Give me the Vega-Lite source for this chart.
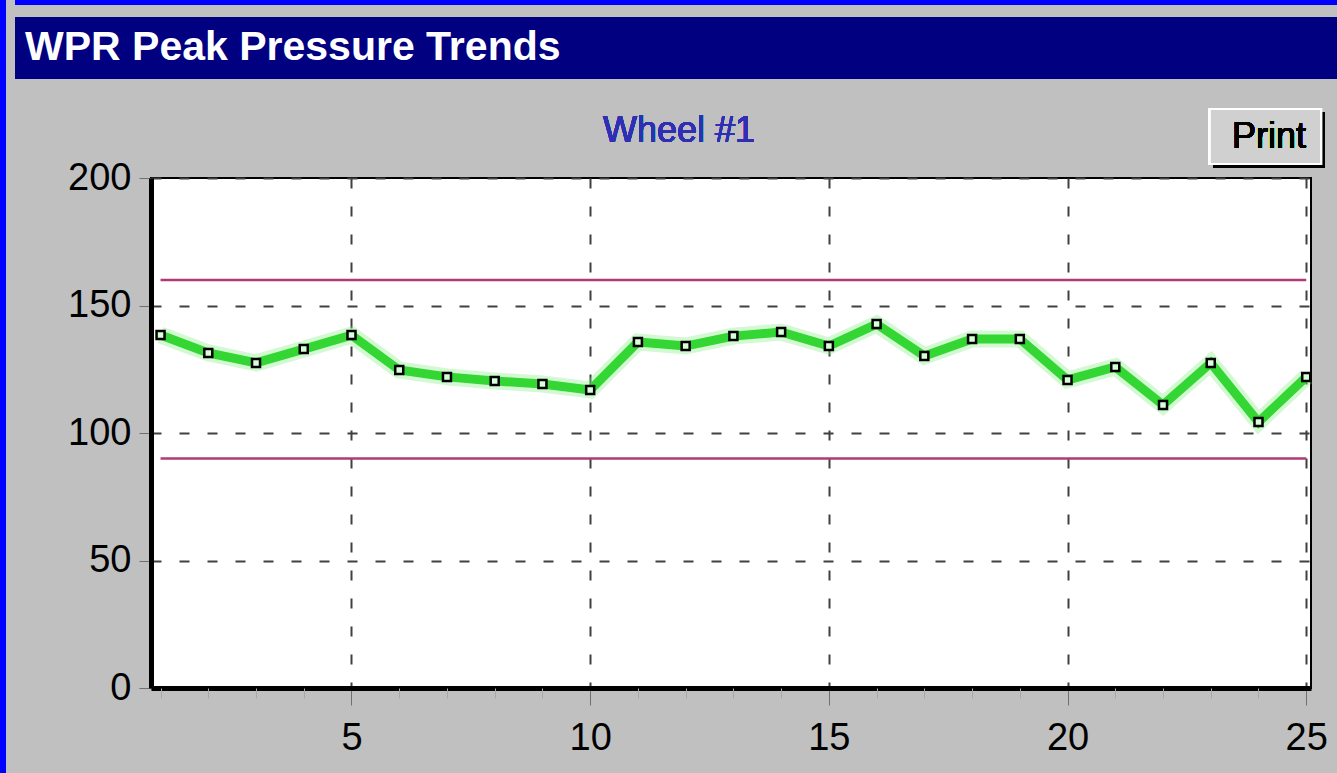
{
  "$schema": "https://vega.github.io/schema/vega-lite/v6.json",
  "background": "#C0C0C0",
  "padding": 0,
  "spacing": 9,
  "config": {"view": {"stroke": null}, "font": "Liberation Sans"},
  "hconcat": [
    {
      "width": 6, "height": 773,
      "view": {"fill": "#0000FF"},
      "data": {"values": [{}]},
      "mark": {"type": "point", "size": 0, "opacity": 0},
      "encoding": {}
    },
    {
      "columns": 1,
      "align": "none",
      "spacing": 27,
      "concat": [
        {
          "columns": 1,
          "align": "none",
          "spacing": 12,
          "concat": [
            {
              "width": 1322, "height": 5,
              "view": {"fill": "#0000FF"},
              "data": {"values": [{}]},
              "mark": {"type": "point", "size": 0, "opacity": 0},
              "encoding": {}
            },
            {
              "width": 1322, "height": 62,
              "view": {"fill": "#000080"},
              "data": {"values": [{"label": "WPR Peak Pressure Trends"}]},
              "mark": {"type": "text", "align": "left", "baseline": "middle", "dx": 10, "fontSize": 41, "fontWeight": "bold", "color": "white", "font": "Liberation Sans"},
              "encoding": {
                "x": {"datum": 0, "type": "quantitative", "scale": {"domain": [0, 1]}, "axis": null},
                "text": {"field": "label"}
              }
            }
          ]
        },
        {
          "spacing": 0,
          "hconcat": [
            {
              "width": 1, "height": 1,
              "data": {"values": [{}]},
              "mark": {"type": "point", "size": 0, "opacity": 0},
              "encoding": {}
            },
            {
              "width": 1160, "height": 510,
              "view": {"fill": "white", "stroke": "black", "strokeWidth": 2},
              "data": {"values": [
                {"run": 1, "psi": 138.4}, {"run": 2, "psi": 131.4}, {"run": 3, "psi": 127.5}, {"run": 4, "psi": 132.9}, {"run": 5, "psi": 138.4},
                {"run": 6, "psi": 124.7}, {"run": 7, "psi": 122.0}, {"run": 8, "psi": 120.4}, {"run": 9, "psi": 119.2}, {"run": 10, "psi": 116.9},
                {"run": 11, "psi": 135.7}, {"run": 12, "psi": 134.1}, {"run": 13, "psi": 138.0}, {"run": 14, "psi": 139.6}, {"run": 15, "psi": 134.1},
                {"run": 16, "psi": 142.7}, {"run": 17, "psi": 130.2}, {"run": 18, "psi": 136.9}, {"run": 19, "psi": 136.9}, {"run": 20, "psi": 120.8},
                {"run": 21, "psi": 125.9}, {"run": 22, "psi": 111.0}, {"run": 23, "psi": 127.5}, {"run": 24, "psi": 104.3}, {"run": 25, "psi": 122.0}
              ]},
              "resolve": {"axis": {"x": "independent"}},
              "layer": [
                {
                  "data": {"values": [{"limit": 160}, {"limit": 90}]},
                  "mark": {"type": "rule", "color": "#b03a78", "strokeWidth": 2.5},
                  "encoding": {
                    "y": {"field": "limit", "type": "quantitative", "scale": {"domain": [0, 200], "nice": false},
                      "axis": {"values": [0, 50, 100, 150, 200], "grid": true, "gridDash": [10, 18], "gridColor": "#404040", "gridWidth": 2,
                        "tickColor": "#707070", "tickSize": 12, "labelPadding": 8, "labelFontSize": 38, "labelColor": "black", "labelFont": "Liberation Sans",
                        "domainColor": "black", "domainWidth": 5, "title": null, "minExtent": 134}},
                    "x": {"datum": 1, "type": "quantitative", "scale": {"domain": [0.8, 25.1], "nice": false, "zero": false}, "axis": null},
                    "x2": {"datum": 25}
                  }
                },
                {
                  "mark": {"type": "line", "color": "#7dee7d", "strokeWidth": 17, "opacity": 0.35},
                  "encoding": {
                    "x": {"field": "run", "type": "quantitative", "axis": null},
                    "y": {"field": "psi", "type": "quantitative"}
                  }
                },
                {
                  "mark": {"type": "line", "color": "#33d633", "strokeWidth": 9},
                  "encoding": {
                    "x": {"field": "run", "type": "quantitative", "scale": {"domain": [0.8, 25.1], "nice": false, "zero": false},
                      "axis": {"orient": "bottom", "values": [5, 10, 15, 20, 25], "grid": true, "gridDash": [10, 18], "gridColor": "#404040", "gridWidth": 2,
                        "tickColor": "#707070", "tickSize": 17, "labelPadding": 14, "labelFontSize": 38, "labelColor": "black", "labelFont": "Liberation Sans",
                        "labelFlush": false, "domainColor": "black", "domainWidth": 5, "title": null}},
                    "y": {"field": "psi", "type": "quantitative"}
                  }
                },
                {
                  "mark": {"type": "point", "shape": "square", "filled": true, "size": 64, "fill": "#d8ffd8", "stroke": "black", "strokeWidth": 2.5, "opacity": 1},
                  "encoding": {
                    "x": {"field": "run", "type": "quantitative",
                      "axis": {"orient": "bottom", "values": [1,2,3,4,6,7,8,9,11,12,13,14,16,17,18,19,21,22,23,24], "grid": false, "domain": false, "labels": false,
                        "tickColor": "#a8a8a8", "tickSize": 10, "title": null}},
                    "y": {"field": "psi", "type": "quantitative"}
                  }
                },
                {
                  "mark": {"type": "text", "text": "Wheel #1", "fontSize": 36, "color": "#2f2fb4", "align": "center", "baseline": "alphabetic", "font": "Liberation Sans"},
                  "encoding": {
                    "x": {"datum": 11.86, "type": "quantitative", "axis": null},
                    "y": {"datum": 214.1, "type": "quantitative"}
                  }
                },
                {
                  "mark": {"type": "rect", "color": "black"},
                  "encoding": {
                    "x": {"datum": 23.05, "type": "quantitative", "axis": null},
                    "x2": {"datum": 25.39},
                    "y": {"datum": 225.9, "type": "quantitative"},
                    "y2": {"datum": 203.9}
                  }
                },
                {
                  "mark": {"type": "rect", "fill": "#d0d0d0", "stroke": "white", "strokeWidth": 2},
                  "encoding": {
                    "x": {"datum": 22.98, "type": "quantitative", "axis": null},
                    "x2": {"datum": 25.31},
                    "y": {"datum": 227.1, "type": "quantitative"},
                    "y2": {"datum": 205.5}
                  }
                },
                {
                  "mark": {"type": "text", "text": "Print", "fontSize": 36, "color": "black", "align": "center", "baseline": "middle", "font": "Liberation Sans"},
                  "encoding": {
                    "x": {"datum": 24.22, "type": "quantitative", "axis": null},
                    "y": {"datum": 216, "type": "quantitative"}
                  }
                }
              ]
            }
          ]
        }
      ]
    }
  ]
}
